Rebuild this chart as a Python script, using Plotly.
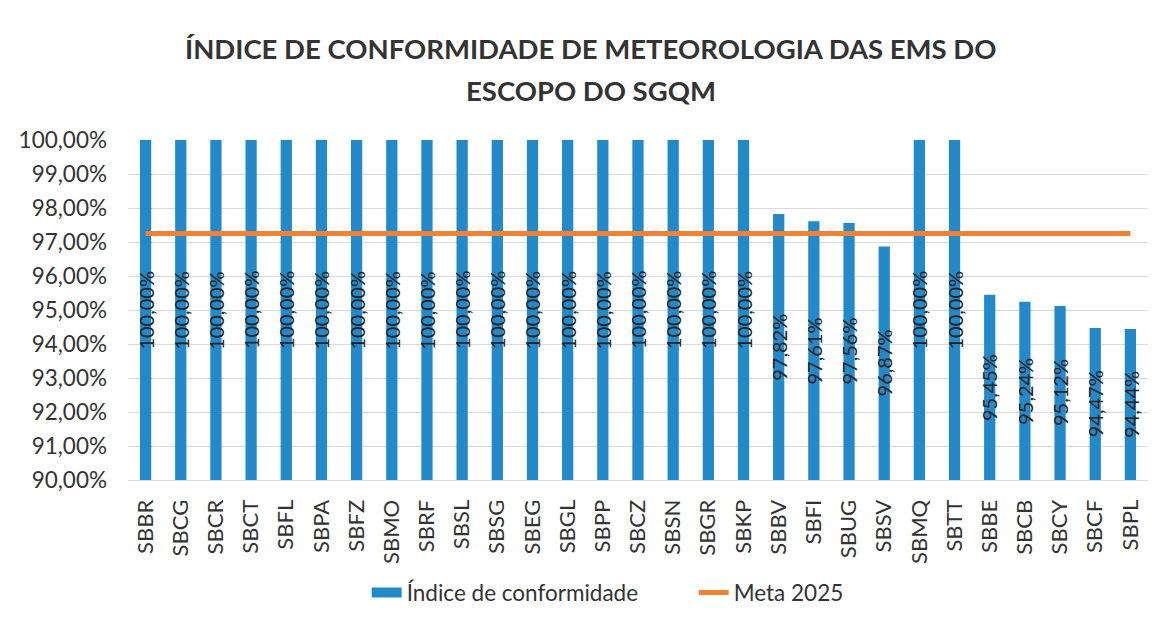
import plotly.graph_objects as go

stations = ["SBBR", "SBCG", "SBCR", "SBCT", "SBFL", "SBPA", "SBFZ", "SBMO", "SBRF", "SBSL",
            "SBSG", "SBEG", "SBGL", "SBPP", "SBCZ", "SBSN", "SBGR", "SBKP", "SBBV", "SBFI",
            "SBUG", "SBSV", "SBMQ", "SBTT", "SBBE", "SBCB", "SBCY", "SBCF", "SBPL"]
indice = [100.00, 100.00, 100.00, 100.00, 100.00, 100.00, 100.00, 100.00, 100.00, 100.00,
          100.00, 100.00, 100.00, 100.00, 100.00, 100.00, 100.00, 100.00, 97.82, 97.61,
          97.56, 96.87, 100.00, 100.00, 95.45, 95.24, 95.12, 94.47, 94.44]
meta_2025 = [97.25] * len(stations)
title_lines = ["ÍNDICE DE CONFORMIDADE DE METEOROLOGIA DAS EMS DO", "ESCOPO DO SGQM"]
y_min, y_max = 90, 100
BLUE = "#2389C8"
ORANGE = "#F08236"

fig = go.Figure()
fig.add_trace(go.Bar(
    x=stations, y=indice, name="Índice de conformidade",
    marker=dict(color=BLUE, line=dict(width=0)),
    width=0.32, showlegend=False, legendgroup="idx",
))
# legend entry for the bars (wide rectangular swatch)
fig.add_trace(go.Scatter(
    x=[None], y=[None], name="Índice de conformidade", mode="lines",
    line=dict(color=BLUE, width=10), legendgroup="idx",
))
fig.add_trace(go.Scatter(
    x=stations, y=meta_2025, name="Meta 2025", mode="lines",
    line=dict(color=ORANGE, width=5),
))

# data labels, centred in each bar, rotated
for s, v in zip(stations, indice):
    fig.add_annotation(
        x=s, y=(y_min + v) / 2, xref="x", yref="y",
        text=f"{v:.2f}%".replace(".", ","), showarrow=False, textangle=-90,
        font=dict(family="Lato", size=20, color="#222222"),
    )

# two-line title
for txt, yy in zip(title_lines, [1.269, 1.147]):
    fig.add_annotation(
        x=0.454, y=yy, xref="paper", yref="paper", xanchor="center", yanchor="middle",
        text=f"<b>{txt}</b>", showarrow=False,
        font=dict(family="Lato", size=27.5, color="#333333"),
    )

fig.update_layout(
    width=1168, height=619,
    separators=",.",
    paper_bgcolor="white", plot_bgcolor="white",
    margin=dict(l=120, r=28, t=132, b=147),
    font=dict(family="Lato", color="#333333"),
    yaxis=dict(
        range=[y_min, y_max], dtick=1, tick0=90, tickformat=".2f", ticksuffix="%",
        showgrid=True, gridcolor="#d9d9e3", gridwidth=1,
        tickfont=dict(size=22.5, color="#333333"), zeroline=False,
        ticks="", showline=False, automargin=False, ticklabelstandoff=20,
    ),
    xaxis=dict(
        tickangle=-90, tickfont=dict(size=22, color="#333333"),
        showline=True, linecolor="#d9d9d9", ticks="", automargin=False,
        ticklabelstandoff=10,
    ),
    legend=dict(
        orientation="h", x=0.234, xanchor="left", y=-0.332, yanchor="middle",
        font=dict(size=22.5, color="#333333"), traceorder="normal",
        entrywidth=282,
    ),
    bargap=0.68,
    showlegend=True,
)

fig.write_html("out.html")
